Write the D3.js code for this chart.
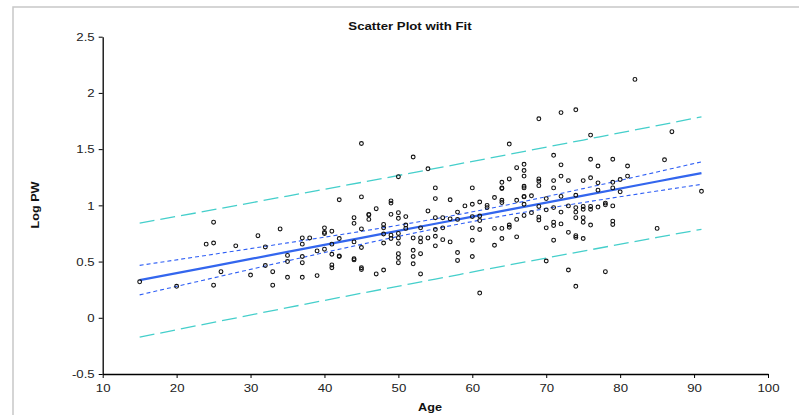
<!DOCTYPE html>
<html>
<head>
<meta charset="utf-8">
<script src="https://cdn.jsdelivr.net/npm/d3@7"></script>
<style>
  html, body { margin: 0; padding: 0; background: #fff; }
  svg { display: block; font-family: "Liberation Sans", Arial, sans-serif; }
</style>
</head>
<body>
<svg id="chart" width="799" height="415"></svg>
<script>
// ---- data ----
const title = "Scatter Plot with Fit";
const xLabel = "Age";
const yLabel = "Log PW";
const xTicks = [10, 20, 30, 40, 50, 60, 70, 80, 90, 100];
const yTicks = [-0.5, 0, 0.5, 1, 1.5, 2, 2.5];

// scatter points: ages and Log PW values
const ages = [
  15, 20, 24, 25, 25, 25, 26, 28, 30, 31, 32, 32, 33, 33, 34,
  35, 35, 35, 37, 37, 37, 37, 37, 38, 39, 39,
  40, 40, 40, 40, 41, 41, 41, 41, 41, 42, 42, 42, 42,
  44, 44, 44, 44, 44, 45, 45, 45, 45, 45, 45, 46, 46, 46, 47, 47,
  48, 48, 48, 48, 48, 49, 49, 49, 49, 49,
  50, 50, 50, 50, 50, 50, 50, 50, 50, 51, 51, 51,
  52, 52, 52, 52, 52, 53, 53, 53, 53, 53, 54, 54, 54,
  55, 55, 55, 55, 55, 55, 56, 56, 56, 57, 57, 57, 58, 58, 58, 58, 59,
  60, 60, 60, 60, 60, 60, 61, 61, 61, 61, 61, 62, 62, 63, 63, 63,
  64, 64, 64, 64, 64, 64, 64, 65, 65, 65, 65, 66, 66, 66, 66,
  67, 67, 67, 67, 67, 67, 67, 67, 67, 68, 68,
  69, 69, 69, 69, 69, 69, 69, 70, 70, 70, 70,
  71, 71, 71, 71, 71, 71, 71, 72, 72, 72, 72, 72, 72, 73, 73, 73, 73,
  74, 74, 74, 74, 74, 74, 74, 74, 75, 75, 75, 75, 75, 75,
  76, 76, 76, 76, 76, 76, 77, 77, 77, 77, 78, 78, 78,
  79, 79, 79, 79, 79, 79, 80, 80, 81, 81, 82, 85, 86, 87, 91
];
const logPW = [
  0.32, 0.28, 0.655, 0.85, 0.665, 0.29, 0.41, 0.64, 0.38, 0.73, 0.63, 0.465, 0.41, 0.29, 0.79,
  0.555, 0.50, 0.36, 0.71, 0.655, 0.545, 0.49, 0.36, 0.71, 0.595, 0.375,
  0.80, 0.76, 0.75, 0.61, 0.77, 0.655, 0.565, 0.47, 0.445, 1.05, 0.705, 0.55, 0.545,
  0.89, 0.84, 0.675, 0.525, 0.515, 1.55, 1.075, 0.79, 0.625, 0.445, 0.43, 0.92, 0.915, 0.875, 0.97, 0.39,
  0.83, 0.80, 0.745, 0.665, 0.425, 1.04, 1.02, 0.92, 0.735, 0.705,
  1.255, 0.935, 0.885, 0.75, 0.71, 0.66, 0.57, 0.535, 0.49, 0.90, 0.825, 0.795,
  1.43, 0.71, 0.60, 0.545, 0.48, 0.80, 0.71, 0.675, 0.57, 0.39, 1.325, 0.95, 0.71,
  1.155, 1.06, 0.89, 0.785, 0.725, 0.64, 0.89, 0.80, 0.695, 1.05, 0.88, 0.675, 0.94, 0.875, 0.58, 0.51, 0.995,
  1.155, 1.01, 0.90, 0.80, 0.69, 0.545, 1.03, 0.905, 0.865, 0.785, 0.22, 1.0, 0.98, 1.07, 0.795, 0.645,
  1.205, 1.155, 1.15, 1.045, 1.025, 0.795, 0.705, 1.545, 1.235, 0.825, 0.805, 1.335, 1.045, 0.875, 0.72,
  1.365, 1.31, 1.26, 1.17, 1.155, 1.08, 1.075, 1.01, 0.91, 1.085, 0.935,
  1.77, 1.235, 1.215, 1.175, 0.99, 0.895, 0.87, 1.06, 0.96, 0.80, 0.505,
  1.445, 1.22, 1.155, 0.98, 0.85, 0.82, 0.69, 1.825, 1.36, 1.26, 1.08, 0.94, 0.835, 1.22, 0.995, 0.76, 0.425,
  1.85, 1.09, 0.98, 0.94, 0.89, 0.73, 0.715, 0.28, 1.22, 0.99, 0.965, 0.89, 0.85, 0.705,
  1.625, 1.41, 1.245, 0.99, 0.965, 0.825, 1.35, 1.2, 1.135, 0.985, 1.02, 1.005, 0.41,
  1.41, 1.205, 1.155, 0.995, 0.86, 0.83, 1.23, 1.12, 1.35, 1.26, 2.12, 0.795, 1.405, 1.655, 1.125
];

// fitted line and bands, read at these ages
const bandAges  = [15, 25, 35, 45, 55, 65, 75, 85, 91];
const fitVals   = [0.335, 0.460, 0.586, 0.711, 0.836, 0.962, 1.087, 1.212, 1.287];
const confUpper = [0.466, 0.565, 0.666, 0.769, 0.880, 1.008, 1.149, 1.297, 1.387];
const confLower = [0.204, 0.355, 0.506, 0.653, 0.792, 0.916, 1.025, 1.127, 1.187];
const predUpper = [0.842, 0.961, 1.083, 1.204, 1.328, 1.454, 1.581, 1.709, 1.787];
const predLower = [-0.172, -0.041, 0.090, 0.218, 0.344, 0.470, 0.593, 0.715, 0.787];

// ---- drawing ----
const svg = d3.select("#chart");
const m = { left: 102.7, right: 768, top: 36.7, bottom: 374 };
const SX = 1.15; // horizontal text stretch seen in the reference

// outer gray frame
svg.append("rect")
  .attr("x", 13).attr("y", 7)
  .attr("width", 800).attr("height", 420)
  .attr("fill", "none").attr("stroke", "#c8c8c8").attr("stroke-width", 1.5);

const x = d3.scaleLinear().domain([10, 100]).range([m.left, m.right]);
const y = d3.scaleLinear().domain([-0.5, 2.5]).range([m.bottom, m.top]);

// axes
const xAxis = d3.axisBottom(x).tickValues(xTicks).tickSize(4).tickSizeOuter(0).tickFormat(d3.format("d"));
const yAxis = d3.axisLeft(y).tickValues(yTicks).tickSize(4).tickSizeOuter(0).tickFormat(d => String(d));

const gx = svg.append("g").attr("transform", `translate(0,${m.bottom})`).call(xAxis);
const gy = svg.append("g").attr("transform", `translate(${m.left},0)`).call(yAxis);
[gx, gy].forEach(g => {
  g.select(".domain").attr("stroke", "#000").attr("stroke-width", 1.3);
  g.selectAll(".tick line").attr("stroke", "#000").attr("stroke-width", 1);
  g.selectAll(".tick text").attr("fill", "#222").style("font-size", "11.5px")
    .style("font-family", "'Liberation Sans', Arial, sans-serif")
    .attr("transform", `scale(${SX},1)`);
});
gx.selectAll(".tick text").attr("dy", "0.95em").attr("y", 7).attr("x", 0);
gy.selectAll(".tick text").attr("x", -8 / SX);

// band lines
const bandLine = vals => d3.line()
  .x((d, i) => x(bandAges[i]))
  .y((d, i) => y(vals[i]))
  .curve(d3.curveMonotoneX)(vals);

[predUpper, predLower].forEach(v => {
  svg.append("path").attr("d", bandLine(v))
    .attr("fill", "none").attr("stroke", "#45cfcb").attr("stroke-width", 1.3)
    .attr("stroke-dasharray", "15,6");
});
[confUpper, confLower].forEach(v => {
  svg.append("path").attr("d", bandLine(v))
    .attr("fill", "none").attr("stroke", "#2f5ff5").attr("stroke-width", 1.1)
    .attr("stroke-dasharray", "4,3");
});
svg.append("path").attr("d", bandLine(fitVals))
  .attr("fill", "none").attr("stroke", "#3366ee").attr("stroke-width", 2.2);

// scatter points
svg.append("g").selectAll("circle")
  .data(ages.map((a, i) => [a, logPW[i]]))
  .join("circle")
  .attr("cx", d => x(d[0]))
  .attr("cy", d => y(d[1]))
  .attr("r", 1.9)
  .attr("fill", "none")
  .attr("stroke", "#111")
  .attr("stroke-width", 1.1);

// title and labels
function stretchedText(cx, cy, rot, size, str) {
  svg.append("text")
    .attr("transform", `translate(${cx},${cy}) rotate(${rot}) scale(${SX},1)`)
    .attr("text-anchor", "middle")
    .style("font-size", size).style("font-weight", "bold").attr("fill", "#111")
    .text(str);
}
stretchedText(410, 29.5, 0, "11.5px", title);
stretchedText(430, 410.5, 0, "11px", xLabel);
stretchedText(38.5, 205, -90, "11px", yLabel);
</script>
</body>
</html>
